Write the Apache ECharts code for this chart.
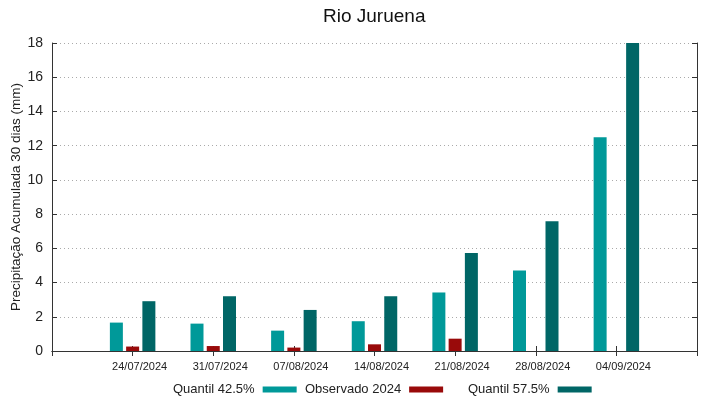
<!DOCTYPE html>
<html>
<head>
    <meta charset="UTF-8">
    <title>Rio Juruena</title>
    <script src="https://cdn.jsdelivr.net/npm/echarts@6/dist/echarts.min.js"></script>
    <style>
        html, body { margin: 0; padding: 0; background: #fff; }
        #chart { width: 719px; height: 399px; }
    </style>
</head>
<body>
<div id="chart"></div>
<script>
    // datas (semanas) e valores
    var categorias = ['24/07/2024', '31/07/2024', '07/08/2024', '14/08/2024', '21/08/2024', '28/08/2024', '04/09/2024'];
    var quantil425 = [1.66, 1.60, 1.19, 1.74, 3.42, 4.71, 12.49];
    var observado2024 = [0.26, 0.29, 0.20, 0.39, 0.72, null, null];
    var quantil575 = [2.91, 3.20, 2.40, 3.20, 5.72, 7.59, 18];
    var yTicks = [0, 2, 4, 6, 8, 10, 12, 14, 16, 18];

    // uma categoria vazia em cada ponta, como no gnuplot
    function pad(arr) { return [null].concat(arr, [null]); }
    var eixoX = [''].concat(categorias, ['']);

    var fonte = 'Liberation Sans, Arial, sans-serif';
    var myChart = echarts.init(document.getElementById('chart'));

    var option = {
        animation: false,
        backgroundColor: '#fff',
        title: {
            text: 'Rio Juruena',
            left: 318,
            top: 2,
            textStyle: {fontFamily: fonte, fontSize: 19, fontWeight: 'normal', color: '#111'}
        },
        grid: {left: 52, right: 22, top: 43, bottom: 48, outerBoundsMode: 'none', containLabel: false},
        legend: [
            {data: ['Quantil 42.5%'], left: 168, top: 378},
            {data: ['Observado 2024'], left: 300, top: 378},
            {data: ['Quantil 57.5%'], left: 463, top: 378}
        ].map(function (l) {
            l.align = 'right';
            l.icon = 'rect';
            l.itemWidth = 34;
            l.itemHeight = 6;
            l.textStyle = {fontFamily: fonte, fontSize: 13, color: '#222', padding: [0, 3, 0, 0]};
            return l;
        }),
        xAxis: [
            {
                type: 'category',
                data: eixoX,
                boundaryGap: false,
                position: 'bottom',
                axisLine: {lineStyle: {color: '#333', width: 1}},
                axisTick: {inside: true, length: 5, lineStyle: {color: '#333'}},
                axisLabel: {
                    interval: 0, margin: 10, color: '#222', fontFamily: fonte, fontSize: 11,
                    padding: [0, 0, 0, 14]
                },
                splitLine: {show: false}
            },
            {
                type: 'category',
                data: eixoX,
                boundaryGap: false,
                position: 'top',
                axisLine: {lineStyle: {color: '#333', width: 1}},
                axisTick: {inside: true, length: 5, lineStyle: {color: '#333'}},
                axisLabel: {show: false},
                splitLine: {show: false}
            }
        ],
        yAxis: [
            {
                type: 'value',
                min: 0, max: 18, interval: 2,
                name: 'Precipitação Acumulada 30 dias (mm)',
                nameLocation: 'middle',
                nameGap: 29,
                nameMoveOverlap: false,
                nameTextStyle: {fontFamily: fonte, fontSize: 13.5, color: '#222'},
                axisLine: {show: true, lineStyle: {color: '#333', width: 1}},
                axisTick: {show: true, inside: true, length: 5, lineStyle: {color: '#333'}},
                axisLabel: {
                    margin: 9, color: '#222', fontFamily: fonte, fontSize: 14,
                    formatter: function (v) { return yTicks.indexOf(v) >= 0 ? String(v) : ''; }
                },
                splitLine: {show: true, lineStyle: {color: '#aaa', type: [1, 3], width: 1}}
            },
            {
                type: 'value',
                min: 0, max: 18, interval: 2,
                position: 'right',
                axisLine: {show: true, lineStyle: {color: '#333', width: 1}},
                axisTick: {show: true, inside: true, length: 5, lineStyle: {color: '#333'}},
                axisLabel: {show: false},
                splitLine: {show: false}
            }
        ],
        series: [
            {name: 'Quantil 42.5%', type: 'bar', data: pad(quantil425), barWidth: 13, barGap: '25%',
                itemStyle: {color: '#009999'}},
            {name: 'Observado 2024', type: 'bar', data: pad(observado2024), barWidth: 13, barGap: '25%',
                itemStyle: {color: '#990a0a'}},
            {name: 'Quantil 57.5%', type: 'bar', data: pad(quantil575), barWidth: 13, barGap: '25%',
                itemStyle: {color: '#006666'}}
        ]
    };
    myChart.setOption(option);
</script>
</body>
</html>
